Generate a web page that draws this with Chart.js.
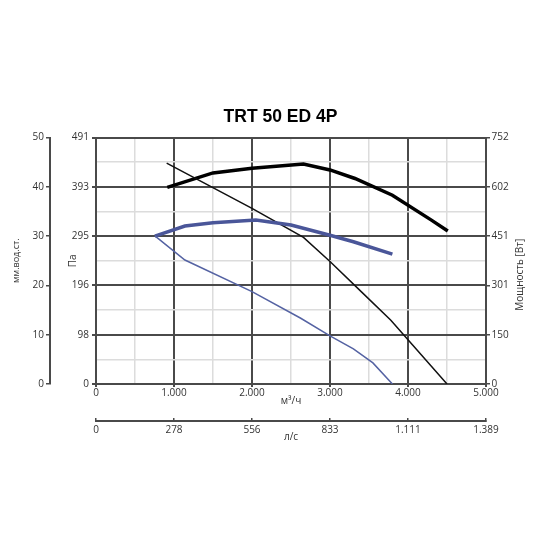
<!DOCTYPE html>
<html>
<head>
<meta charset="utf-8">
<script src="https://cdn.jsdelivr.net/npm/chart.js@4.4.0/dist/chart.umd.min.js"></script>
<style>
  html, body { margin: 0; padding: 0; background: #fff; }
</style>
</head>
<body>
<canvas id="chart" width="550" height="550"></canvas>
<script>
// axes (m³/h, л/с, Па, мм вод.ст., Вт)
const flowTicks = [0, 1000, 2000, 3000, 4000, 5000];
const flowLabels = ['0', '1.000', '2.000', '3.000', '4.000', '5.000'];
const lsTicks = [0, 277.8, 555.6, 833.3, 1111.1, 1388.9];
const lsLabels = ['0', '278', '556', '833', '1.111', '1.389'];
const paTicks = [0, 98.2, 196.4, 294.6, 392.8, 491];
const paLabels = ['0', '98', '196', '295', '393', '491'];
const mmTicks = [0, 10, 20, 30, 40, 50];
const wTicks = [0, 150.4, 300.8, 451.2, 601.6, 752];
const wLabels = ['0', '150', '301', '451', '602', '752'];

// high speed: pressure (Па) and power (Вт)
const flowHiP = [906, 2000, 2660, 3000, 3400, 3780, 4000, 4500];
const presHi = [440, 350, 292, 244, 184, 127, 88, 0];
const flowHiW = [914, 1500, 2000, 2660, 3000, 3320, 3800, 4300, 4510];
const powerHi = [600, 644, 658, 671, 653, 627, 576, 500, 467];

// low speed
const flowLoP = [755, 1140, 2000, 2625, 3000, 3300, 3550, 3800];
const presLo = [295, 247, 184, 131, 96, 70, 42, 0];
const flowLoW = [755, 1140, 1500, 2050, 2500, 3000, 3300, 3800];
const powerLo = [451, 482, 492, 500, 485, 454, 434, 396];

const dark = '#4a4a4a';
const light = '#dcdcdc';
const textColor = '#333';
const tickFont = { family: '"Open Sans", sans-serif', size: 10 };

const pts = (xs, ys) => xs.map((x, i) => ({ x: x, y: ys[i] }));

// major ticks + a light line half way between them
const withMinor = (major) => {
  const out = [];
  major.forEach((v, i) => {
    out.push({ value: v });
    if (i < major.length - 1) out.push({ value: (v + major[i + 1]) / 2 });
  });
  return out;
};
const only = (vals) => vals.map(v => ({ value: v }));

const gridColor = (ctx) => (ctx.index % 2 ? light : dark);
const gridWidth = (ctx) => (ctx.index % 2 ? 1.5 : 2);
const tickColor = (ctx) => (ctx.index % 2 ? 'rgba(0,0,0,0)' : dark);

// right axis title reads bottom-to-top like the left ones
const rightTitle = {
  id: 'rightTitle',
  afterDraw(chart) {
    const s = chart.scales.yW;
    const area = chart.chartArea;
    const c = chart.ctx;
    c.save();
    c.translate(s.right - 30, (area.top + area.bottom) / 2 + 14);
    c.rotate(-Math.PI / 2);
    c.font = '10px "Open Sans", sans-serif';
    c.fillStyle = textColor;
    c.textAlign = 'center';
    c.textBaseline = 'middle';
    c.fillText('Мощность [Вт]', 0, 0);
    c.restore();
  }
};

const line = (data, axis, color, width) => ({
  data: data,
  yAxisID: axis,
  borderColor: color,
  borderWidth: width,
  showLine: true,
  pointRadius: 0,
  fill: false,
  tension: 0
});

new Chart(document.getElementById('chart').getContext('2d'), {
  type: 'scatter',
  data: {
    datasets: [
      line(pts(flowLoP, presLo), 'y', '#5563a3', 1.5),
      line(pts(flowLoW, powerLo), 'yW', '#4a5699', 3.5),
      line(pts(flowHiP, presHi), 'y', '#111', 1.5),
      line(pts(flowHiW, powerHi), 'yW', '#000', 3.5)
    ]
  },
  options: {
    responsive: false,
    animation: false,
    layout: { padding: { left: 11, right: 0, top: 0, bottom: 103 } },
    plugins: {
      legend: { display: false },
      tooltip: { enabled: false },
      title: {
        display: true,
        text: 'TRT 50 ED 4P',
        color: '#000',
        font: { family: '"Liberation Sans", Arial, sans-serif', size: 17.5, weight: 'bold' },
        padding: { top: 107, bottom: 9.5 }
      }
    },
    scales: {
      x: {
        type: 'linear', position: 'bottom', min: 0, max: 5000, weight: 0,
        afterBuildTicks: (s) => { s.ticks = withMinor(flowTicks); },
        afterFit: (s) => { s.height = 37; },
        ticks: {
          autoSkip: false, maxRotation: 0, padding: 0, color: textColor, font: tickFont,
          callback: (v, i) => (i % 2 ? '' : flowLabels[i / 2])
        },
        grid: { color: gridColor, lineWidth: gridWidth, tickLength: 3, tickColor: tickColor },
        border: { color: dark, width: 2 },
        title: { display: true, text: 'м³/ч', color: textColor, font: tickFont, padding: { bottom: 14 } }
      },
      x2: {
        type: 'linear', position: 'bottom', min: 0, max: lsTicks[lsTicks.length - 1], weight: 1,
        afterBuildTicks: (s) => { s.ticks = only(lsTicks); },
        afterFit: (s) => { s.height = 26; },
        ticks: {
          autoSkip: false, maxRotation: 0, padding: 6, color: textColor, font: tickFont,
          callback: (v, i) => lsLabels[i]
        },
        grid: { drawOnChartArea: false, tickLength: -3, color: dark, lineWidth: 1.5 },
        border: { color: dark, width: 2 },
        title: { display: true, text: 'л/с', color: textColor, font: tickFont, padding: { bottom: 4 } }
      },
      y: {
        type: 'linear', position: 'left', min: 0, max: 491, weight: 0,
        afterBuildTicks: (s) => { s.ticks = withMinor(paTicks); },
        afterFit: (s) => { s.width = 46; },
        ticks: {
          autoSkip: false, padding: 3, color: textColor, font: tickFont,
          callback: (v, i) => (i % 2 ? '' : paLabels[i / 2])
        },
        grid: { color: gridColor, lineWidth: gridWidth, tickLength: 4, tickColor: tickColor },
        border: { color: dark, width: 2 },
        title: { display: true, text: 'Па', color: textColor, font: tickFont, padding: { top: 17 } }
      },
      yMm: {
        type: 'linear', position: 'left', min: 0, max: 50, weight: 1,
        afterBuildTicks: (s) => { s.ticks = only(mmTicks); },
        afterFit: (s) => { s.width = 39; },
        ticks: { autoSkip: false, padding: 2, color: textColor, font: tickFont, callback: (v) => String(v) },
        grid: { drawOnChartArea: false, tickLength: 4, color: dark, lineWidth: 1.5 },
        border: { color: dark, width: 2 },
        title: {
          display: true, text: 'мм.вод.ст.', color: textColor,
          font: { family: '"Open Sans", sans-serif', size: 9 }, padding: { top: 0 }
        }
      },
      yW: {
        type: 'linear', position: 'right', min: 0, max: 752,
        afterBuildTicks: (s) => { s.ticks = only(wTicks); },
        afterFit: (s) => { s.width = 64; },
        ticks: { autoSkip: false, padding: 1.5, color: textColor, font: tickFont, callback: (v, i) => wLabels[i] },
        grid: { drawOnChartArea: false, tickLength: 4, color: dark, lineWidth: 1.5 },
        border: { color: dark, width: 2 }
      }
    }
  },
  plugins: [rightTitle]
});
</script>
</body>
</html>
